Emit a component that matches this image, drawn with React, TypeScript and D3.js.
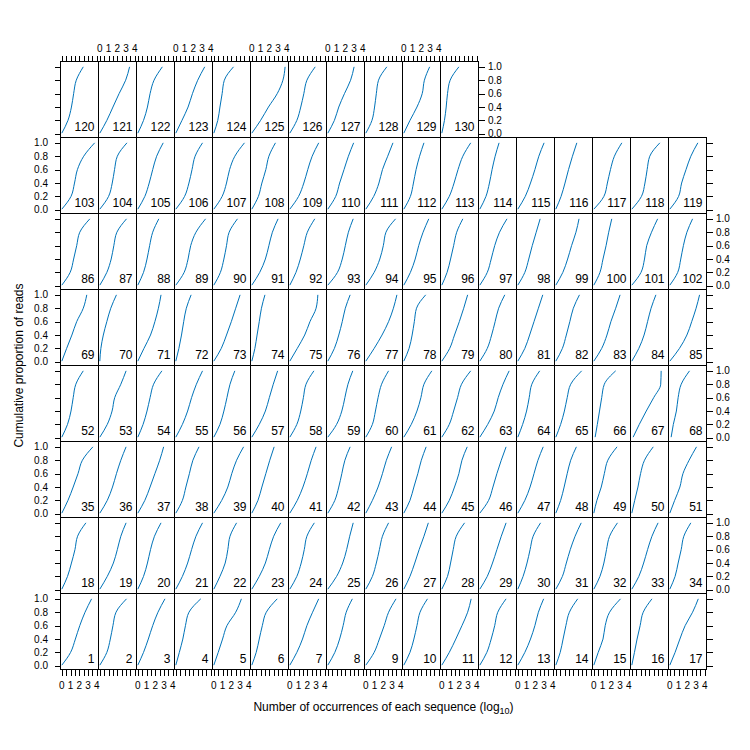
import * as d3 from "d3";

// ── Data ──────────────────────────────────────────────────────
// For every panel: log10 occurrences at which the cumulative proportion
// of reads reaches each of these levels.
const LEVELS = [0.01, 0.2, 0.4, 0.6, 0.8, 1.0];

const row1 = [ // panels 1–17
  [0, 1.0, 1.55, 2.05, 2.65, 3.4], [0, 0.8, 1.2, 1.5, 1.85, 3.05], [0, 0.65, 1.2, 1.7, 2.3, 3.1],
  [0, 0.4, 0.8, 1.1, 1.5, 2.85], [0, 0.5, 1.0, 1.5, 2.5, 3.15], [0, 0.5, 0.85, 1.2, 1.65, 2.9],
  [0, 0.8, 1.45, 1.95, 2.6, 3.3], [0, 0.8, 1.35, 1.75, 2.1, 2.8], [0, 0.95, 1.55, 2.1, 2.6, 3.45],
  [0, 0.7, 1.15, 1.5, 1.85, 2.7], [0, 0.85, 1.6, 2.3, 2.95, 3.35], [0, 0.8, 1.3, 1.7, 2.05, 3.0],
  [0, 0.8, 1.45, 1.95, 2.35, 2.95], [0, 0.5, 0.83, 1.15, 1.55, 2.5], [0, 0.5, 1.05, 1.3, 1.8, 3.05],
  [0, 0.3, 0.6, 0.95, 1.3, 2.3], [0, 0.6, 1.15, 1.75, 2.6, 3.25],
];
const row2 = [ // panels 18–34
  [0, 0.65, 1.1, 1.5, 1.8, 2.75], [0, 0.85, 1.55, 2.0, 2.4, 3.0], [0, 0.65, 1.1, 1.45, 1.9, 2.65],
  [0, 0.75, 1.35, 1.8, 2.3, 3.05], [0, 0.7, 1.3, 1.6, 1.85, 2.6], [0, 0.85, 1.55, 2.0, 2.5, 3.3],
  [0, 0.8, 1.3, 1.65, 1.95, 2.8], [0, 1.0, 1.7, 2.15, 2.5, 2.9], [0, 0.75, 1.2, 1.55, 1.9, 2.6],
  [0, 0.7, 1.25, 1.75, 2.3, 2.8], [0, 0.65, 1.0, 1.3, 1.65, 2.6], [0, 0.85, 1.45, 1.95, 2.45, 3.0],
  [0, 0.6, 1.05, 1.4, 1.75, 2.6], [0, 0.75, 1.2, 1.65, 2.2, 2.9], [0, 0.7, 1.15, 1.45, 1.8, 2.7],
  [0, 0.8, 1.35, 1.8, 2.3, 3.0], [0, 0.6, 0.95, 1.3, 1.6, 2.4],
];
const row3 = [ // panels 35–51
  [0, 0.7, 1.3, 1.85, 2.35, 3.55], [0, 0.85, 1.45, 1.9, 2.4, 3.0], [0, 0.8, 1.4, 1.95, 2.5, 2.95],
  [0, 0.75, 1.15, 1.55, 1.95, 2.65], [0, 0.9, 1.6, 2.05, 2.6, 3.4], [0, 0.7, 1.15, 1.6, 2.05, 2.55],
  [0, 0.85, 1.5, 2.0, 2.45, 3.0], [0, 0.8, 1.25, 1.6, 1.95, 2.55], [0, 0.75, 1.4, 1.9, 2.35, 2.95],
  [0, 0.7, 1.15, 1.6, 2.0, 2.55], [0, 0.85, 1.45, 1.95, 2.3, 2.9], [0, 1.0, 1.5, 1.95, 2.45, 3.0],
  [0, 0.8, 1.4, 1.85, 2.3, 2.9], [0, 0.55, 0.95, 1.3, 1.7, 2.35], [0, 0.35, 0.85, 1.2, 1.6, 2.65],
  [0, 0.33, 0.7, 1.0, 1.45, 2.45], [0, 0.55, 1.15, 1.5, 2.2, 3.05],
];
const row4 = [ // panels 52–68
  [0, 0.65, 1.05, 1.3, 1.6, 2.45], [0, 0.85, 1.4, 1.7, 2.4, 3.0], [0, 0.6, 1.05, 1.4, 1.8, 2.75],
  [0, 0.75, 1.35, 1.8, 2.35, 3.05], [0, 0.7, 1.15, 1.5, 1.85, 2.4], [0, 0.85, 1.55, 2.0, 2.45, 2.95],
  [0, 0.8, 1.25, 1.55, 1.85, 2.75], [0, 1.0, 1.6, 1.95, 2.3, 2.85], [0, 0.75, 1.1, 1.4, 1.8, 2.6],
  [0, 0.85, 1.5, 1.95, 2.3, 3.2], [0, 0.85, 1.35, 1.8, 2.25, 3.3], [0, 0.9, 1.65, 2.1, 2.65, 3.35],
  [0, 0.55, 1.0, 1.3, 1.6, 2.5], [0, 0.55, 0.98, 1.3, 1.7, 2.95], [0.15, 0.4, 0.65, 0.9, 1.2, 2.5],
  [0.15, 0.85, 1.65, 2.5, 3.3, 3.35], [0.15, 0.4, 0.75, 0.95, 1.3, 2.25],
];
const row5 = [ // panels 69–85
  [0, 0.55, 1.15, 1.7, 2.45, 2.85], [0, 0.12, 0.4, 0.8, 1.25, 1.9], [0, 0.7, 1.45, 1.95, 2.35, 2.65],
  [0, 0.35, 0.65, 0.9, 1.2, 1.75], [0, 0.85, 1.45, 2.0, 2.5, 3.0], [0, 0.35, 0.6, 0.85, 1.1, 1.5],
  [0, 0.85, 1.7, 2.3, 3.0, 3.2], [0, 0.75, 1.25, 1.65, 2.0, 2.55], [0, 0.95, 1.85, 2.6, 3.15, 3.55],
  [0, 0.6, 0.95, 1.2, 1.45, 2.5], [0, 0.9, 1.45, 2.0, 2.5, 2.95], [0, 0.85, 1.35, 1.75, 2.15, 2.85],
  [0, 0.8, 1.35, 1.85, 2.35, 2.85], [0, 0.75, 1.2, 1.6, 2.0, 2.7], [0, 0.9, 1.5, 1.95, 2.5, 3.0],
  [0, 0.8, 1.4, 1.8, 2.2, 2.75], [0, 1.1, 1.95, 2.5, 3.0, 3.4],
];
const row6 = [ // panels 86–102
  [0, 0.95, 1.35, 1.7, 2.05, 3.2], [0, 0.8, 1.3, 1.6, 1.95, 3.05], [0, 0.65, 1.05, 1.35, 1.7, 2.4],
  [0, 0.95, 1.4, 1.7, 2.3, 3.4], [0, 0.75, 1.15, 1.45, 1.75, 2.7], [0, 0.9, 1.55, 1.95, 2.35, 3.0],
  [0, 0.7, 1.2, 1.6, 2.0, 2.85], [0, 1.1, 1.65, 2.0, 2.35, 2.9], [0, 0.95, 1.6, 2.0, 2.3, 3.4],
  [0, 0.75, 1.3, 1.7, 2.2, 2.85], [0, 0.6, 1.0, 1.35, 1.7, 2.4], [0, 0.85, 1.3, 1.7, 2.25, 3.1],
  [0, 0.8, 1.25, 1.65, 2.1, 2.55], [0, 0.8, 1.35, 1.8, 2.3, 2.65], [0, 0.7, 1.05, 1.4, 1.7, 2.05],
  [0, 1.05, 1.45, 1.7, 2.25, 2.95], [0, 0.9, 1.25, 1.55, 1.95, 2.6],
];
const row7 = [ // panels 103–119
  [0, 1.05, 1.45, 1.78, 2.5, 3.75], [0, 1.0, 1.42, 1.68, 2.0, 3.1], [0, 0.8, 1.3, 1.7, 2.15, 2.9],
  [0, 1.0, 1.5, 1.85, 2.2, 3.05], [0, 0.95, 1.45, 1.8, 2.4, 3.5], [0, 0.75, 1.15, 1.6, 1.95, 2.7],
  [0, 1.0, 1.6, 2.05, 2.55, 3.3], [0, 0.9, 1.35, 1.85, 2.35, 2.95], [0, 0.9, 1.5, 1.9, 2.5, 3.1],
  [0, 0.75, 1.1, 1.4, 1.8, 2.3], [0, 0.85, 1.4, 1.85, 2.4, 3.3], [0, 0.7, 1.1, 1.4, 1.75, 2.2],
  [0, 0.85, 1.45, 1.95, 2.4, 3.0], [0, 0.6, 1.05, 1.45, 1.9, 2.4], [0, 1.15, 1.55, 1.9, 2.35, 3.2],
  [0, 1.1, 1.5, 1.75, 2.05, 3.2], [0, 1.0, 1.35, 1.85, 2.4, 3.2],
];
const row8 = [ // panels 120–130
  [0, 0.7, 1.1, 1.35, 1.65, 2.45], [0, 0.8, 1.5, 2.2, 2.95, 3.4], [0, 0.65, 1.1, 1.4, 1.85, 2.8],
  [0, 0.7, 1.4, 1.9, 2.5, 3.3], [0, 0.45, 0.7, 0.95, 1.2, 2.25], [0, 1.0, 1.9, 2.9, 3.55, 3.8],
  [0, 0.8, 1.25, 1.6, 1.95, 2.9], [0, 0.75, 1.25, 1.9, 2.6, 3.0], [0, 0.7, 1.0, 1.2, 1.45, 2.4],
  [0, 0.7, 1.5, 2.1, 2.35, 2.95], [0, 0.3, 0.5, 0.65, 0.95, 1.95],
];
const rows = [row1, row2, row3, row4, row5, row6, row7, row8];

const X_TICKS = [0, 0.5, 1, 1.5, 2, 2.5, 3, 3.5, 4];
const X_LABELS = ["0", "1", "2", "3", "4"];
const Y_TICKS = [0, 0.2, 0.4, 0.6, 0.8, 1.0];
const Y_LABELS = ["0.0", "0.2", "0.4", "0.6", "0.8", "1.0"];

// ── Layout ────────────────────────────────────────────────────
const W = 750, H = 750;
const NCOL = 17, NROW = 8;
const PW = 38, PH = 76;
const LEFT = 60.5, TOP = 61.5;
const TCK = 6;
const LINE = "#0073b9";
const FONT = "'Liberation Sans', Arial, sans-serif";

const x = d3.scaleLinear().domain([-0.15, 4.19]).range([0, PW]);
const y = d3.scaleLinear().domain([-0.055, 1.08]).range([PH, 0]);
const line = d3.line<[number, number]>()
  .x((d) => x(d[0]))
  .y((d) => y(d[1]))
  .curve(d3.curveMonotoneY);

export default function App() {
  const panels: JSX.Element[] = [];
  const axes: JSX.Element[] = [];

  rows.forEach((row, r) => {
    const top = TOP + (NROW - 1 - r) * PH;
    row.forEach((qs, c) => {
      const left = LEFT + c * PW;
      const id = r * NCOL + c + 1;
      const pts = qs.map((q, i) => [q, LEVELS[i]] as [number, number]);
      panels.push(
        <g key={id} transform={`translate(${left},${top})`}>
          <path d={line(pts) ?? ""} fill="none" stroke={LINE} strokeWidth={1} />
          <text x={PW - 4} y={PH - 7} textAnchor="end" fontSize={12}>{id}</text>
          <rect width={PW} height={PH} fill="none" stroke="#000" strokeWidth={1} shapeRendering="crispEdges" />
        </g>
      );

      // bottom axis (first row), top axis (last row)
      const onBottom = r === 0, onTop = r === NROW - 1;
      if (onBottom || onTop) {
        const y0 = onBottom ? top + PH : top;
        const dir = onBottom ? 1 : -1;
        const labelled = onBottom ? c % 2 === 0 : c % 2 === 1;
        X_TICKS.forEach((t) => {
          const px = Math.round(left + x(t)) + 0.5;
          axes.push(<line key={`xt${id}-${t}`} x1={px} x2={px} y1={y0} y2={y0 + dir * TCK}
            stroke="#000" shapeRendering="crispEdges" />);
        });
        if (labelled) {
          X_LABELS.forEach((lab, i) => {
            axes.push(<text key={`xl${id}-${i}`} x={left + x(i)} y={onBottom ? 689 : 52}
              textAnchor="middle" fontSize={10}>{lab}</text>);
          });
        }
      }
    });

    // left + right axes for each row
    const right = LEFT + row.length * PW;
    Y_TICKS.forEach((t, i) => {
      const py = Math.round(top + y(t)) + 0.5;
      axes.push(<line key={`yl${r}-${i}`} x1={LEFT - TCK} x2={LEFT} y1={py} y2={py}
        stroke="#000" shapeRendering="crispEdges" />);
      axes.push(<line key={`yr${r}-${i}`} x1={right} x2={right + TCK} y1={py} y2={py}
        stroke="#000" shapeRendering="crispEdges" />);
      if (r % 2 === 0) {
        axes.push(<text key={`ylt${r}-${i}`} x={LEFT - 12.5} y={top + y(t) + 3.6}
          textAnchor="end" fontSize={10}>{Y_LABELS[i]}</text>);
      } else {
        axes.push(<text key={`yrt${r}-${i}`} x={right + 9.5} y={top + y(t) + 3.6}
          textAnchor="start" fontSize={10}>{Y_LABELS[i]}</text>);
      }
    });
  });

  const midX = LEFT + (NCOL * PW) / 2;
  const midY = TOP + (NROW * PH) / 2;

  return (
    <svg width={W} height={H} viewBox={`0 0 ${W} ${H}`}
      style={{ position: "absolute", left: 0, top: 0, background: "#fff" }}
      fontFamily={FONT} fill="#000">
      {panels}
      {axes}
      <text x={midX} y={711} textAnchor="middle" fontSize={12}>
        Number of occurrences of each sequence (log
        <tspan fontSize={9} dy={3}>10</tspan>
        <tspan dy={-3}>)</tspan>
      </text>
      <text transform={`translate(23,${midY}) rotate(-90)`} textAnchor="middle" fontSize={12}>
        Cumulative proportion of reads
      </text>
    </svg>
  );
}
